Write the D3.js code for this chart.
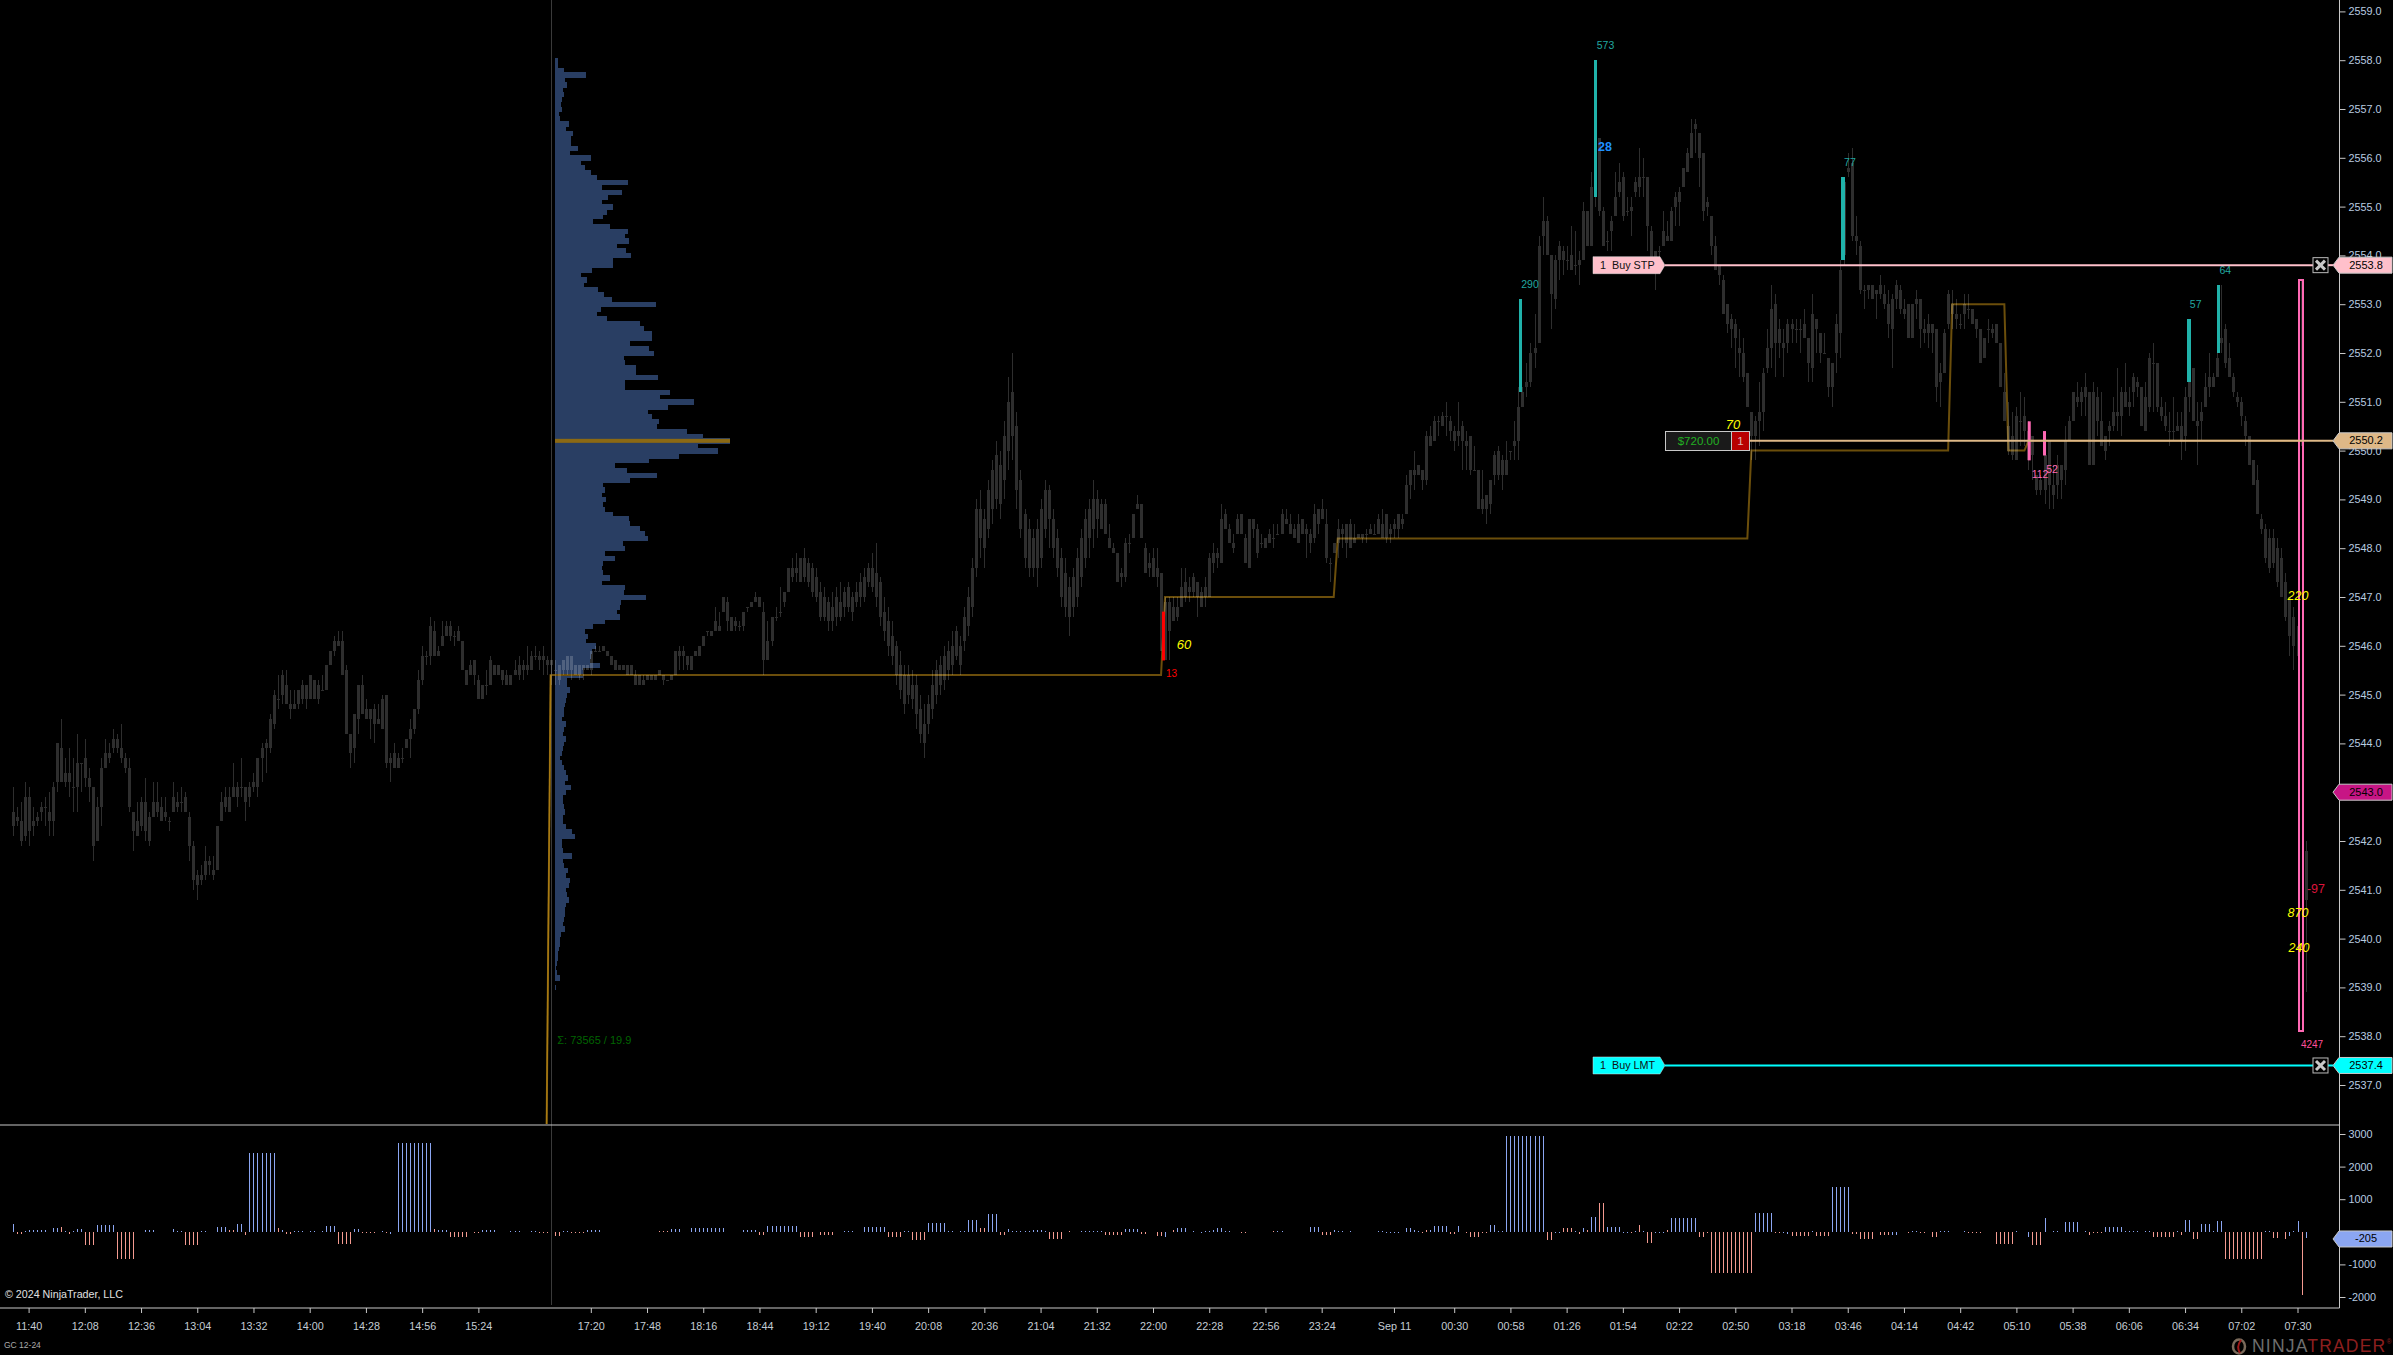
<!DOCTYPE html>
<html><head><meta charset="utf-8">
<script src="https://cdn.jsdelivr.net/npm/d3@7"></script>
<style>
html,body{margin:0;padding:0;background:#000;overflow:hidden}
svg{display:block;font-family:"Liberation Sans",Arial,sans-serif}
</style></head><body>
<script>
// Candles: [high, bodyTop, bodyBottom, low], in price tenths above 2500 (431 = 2543.1). First bar index is -4.
const candlesMorning=[[431,426,423,421],[427,425,424,423],[428,424,420,419],[432,429,421,420],[431,429,422,419],[427,424,423,421],[426,425,424,423],[428,427,426,424],[429,427,427,423],[430,426,424,421],[432,431,424,421],[440,440,432,430],[445,439,432,432],[437,434,432,431],[439,434,432,429],[437,431,431,426],[442,436,431,426],[436,436,436,430],[441,437,433,431],[435,433,431,428],[431,431,419,416],[429,427,420,420],[437,435,427,423],[441,438,435,435],[440,438,437,436],[443,441,439,438],[442,441,439,438],[444,439,437,436],[438,437,435,434],[437,435,427,426],[426,426,422,418],[428,424,421,421],[429,428,423,422],[433,428,422,420],[426,425,420,419],[432,428,425,425],[432,428,426,425],[429,427,424,424],[429,426,425,424],[425,424,424,422],[432,429,426,426],[430,428,427,426],[431,428,428,426],[430,429,426,426],[426,425,419,416],[420,419,412,410],[414,413,411,408],[415,413,412,411],[419,416,413,412],[417,416,415,413],[417,414,413,412],[423,423,414,414],[430,428,424,424],[431,429,427,426],[431,429,426,426],[436,431,429,429],[432,431,429,427],[437,431,431,429],[431,431,428,424],[432,431,429,427],[434,432,431,430],[437,437,431,429],[440,439,437,432],[441,440,439,434],[446,445,439,438],[451,450,444,443],[454,449,449,447],[455,454,450,448],[455,452,448,448],[451,448,447,445],[451,448,447,447],[451,451,448,447],[453,452,449,448],[452,452,449,447],[454,454,449,449],[453,453,449,449],[453,452,449,448],[454,451,451,451],[456,456,451,451],[459,459,456,456],[462,461,459,458],[463,461,460,460],[463,461,454,454],[456,455,442,442],[442,442,438,435],[446,446,439,436],[452,452,445,442],[454,452,446,446],[449,447,445,445],[447,447,445,441],[448,447,444,440],[448,445,444,444],[450,449,443,443],[450,450,436,435],[438,437,436,432],[440,438,435,435],[438,437,435,435],[439,437,437,436],[441,441,439,439],[445,443,441,437],[447,447,443,442],[455,453,447,446],[460,458,453,452],[459,458,458,456],[466,464,458,456],[465,463,458,458],[460,459,458,458],[465,462,460,460],[465,464,462,462],[465,464,462,461],[463,462,462,460],[464,463,461,461],[461,461,455,455],[455,455,452,452],[457,456,454,454],[457,457,454,452],[454,453,449,449],[452,452,449,449],[455,452,452,450],[458,457,452,452],[456,456,454,454],[456,456,454,454]];
const candlesClose=[[455,455,453,452],[455,454,452,452],[454,454,452,452],[457,455,454,454],[458,456,454,453],[457,456,455,453],[460,456,455,454],[459,458,455,455],[460,458,458,457],[459,458,457,455],[460,458,457,454],[458,457,456,454],[457,457,456,452]];
const candlesOpen=[[457,455,455,452],[456,456,453,452],[457,457,455,454],[458,458,455,454],[458,458,455,453],[456,456,454,454],[456,456,454,453],[456,456,455,453],[456,456,455,455],[459,459,455,454],[460,459,459,459],[460,459,459,459],[460,460,459,459],[459,459,458,458],[458,458,456,456],[457,457,455,455],[456,456,455,455],[456,456,455,455],[456,456,454,454],[456,456,454,454],[455,454,452,452],[454,454,452,452],[454,453,452,452],[454,454,453,453],[454,454,453,453],[454,454,453,453],[455,455,454,454],[454,454,453,452],[453,453,453,453],[454,454,453,453],[459,459,454,454],[460,459,458,455],[460,459,458,455],[458,458,456,455],[458,458,455,455],[459,459,458,458],[460,460,458,458],[462,462,460,460],[463,463,463,462],[463,463,462,462]];
const candlesEvening=[[468,465,463,463],[467,464,463,463],[470,470,467,467],[470,469,465,463],[466,466,463,463],[466,465,464,463],[465,464,464,463],[467,467,464,463],[468,468,468,467],[469,469,468,468],[471,470,469,469],[470,470,468,468],[469,467,457,454],[465,461,457,457],[466,466,461,460],[468,466,466,465],[472,467,467,466],[471,471,469,468],[476,476,471,471],[478,476,474,473],[479,476,475,473],[478,478,473,473]];
const candlesNight=[[480,478,474,473],[478,477,473,472],[477,476,471,470],[476,474,470,469],[473,471,466,465],[472,470,466,465],[470,469,465,463],[471,468,465,463],[472,470,466,464],[473,469,466,465],[472,471,468,466],[473,472,468,467],[471,470,467,465],[473,471,469,468],[475,473,470,468],[476,474,470,469],[477,476,473,472],[479,476,472,471],[481,475,470,468],[474,473,466,464],[470,467,463,461],[468,465,460,458],[465,462,458,456],[461,460,454,452],[459,456,451,449],[456,454,448,446],[456,454,450,448],[455,452,449,447],[454,452,446,443],[450,447,442,440],[448,444,440,437],[450,448,444,442],[455,452,447,445],[457,455,450,448],[458,456,452,450],[460,458,453,451],[461,459,455,453],[463,460,456,454],[464,463,458,457],[462,460,456,454],[468,466,461,459],[472,470,464,462],[478,476,468,466],[490,488,476,474],[492,488,482,478],[488,486,480,476],[494,492,484,482],[498,496,488,485],[502,499,490,488],[500,497,489,486],[506,503,494,490],[515,510,500,496],[520,512,503,498],[508,505,492,488],[496,494,484,482],[488,487,478,476],[486,484,476,474],[484,482,476,474],[486,484,476,472],[490,488,478,476],[494,492,484,482],[493,492,486,480],[488,486,480,478],[484,482,476,474],[480,478,470,468],[478,475,468,466],[474,472,466,462],[476,474,468,466],[480,478,470,468],[484,482,474,472],[488,486,478,476],[490,488,482,478],[494,490,484,480],[492,490,486,482]];
const candlesMidnight=[[490,489,484,484],[490,489,483,483],[485,482,480,480],[481,480,479,479],[479,479,473,473],[476,475,474,472],[482,481,474,473],[483,481,481,479],[487,487,482,482],[491,489,488,488],[489,489,482,482],[481,480,475,475],[479,477,476,474],[480,478,474,474],[480,476,474,472],[475,475,459,459],[470,469,457,457],[470,469,463,457],[470,468,465,465],[470,468,466,465],[476,472,468,468],[476,473,470,469],[474,472,471,469],[475,474,471,470],[473,473,470,466],[472,471,468,468],[474,472,470,468],[479,478,470,470],[481,479,477,475],[480,479,478,476],[489,486,477,477],[488,487,484,484],[485,484,481,481],[483,481,480,479],[487,486,483,483],[487,487,483,483],[483,482,477,477],[486,486,476,476],[486,486,484,482],[485,484,479,478],[483,481,481,480],[482,482,480,480],[484,483,481,481],[485,482,482,480],[485,483,483,483],[488,487,483,483],[488,486,485,485],[487,485,483,483],[485,484,482,482],[487,485,481,481],[486,486,483,483],[485,484,483,478],[484,483,481,479],[489,487,482,481],[488,488,485,483],[490,488,486,486],[488,485,478,477],[478,477,477,473],[481,481,479,479],[486,484,481,478],[485,484,483,480],[485,485,481,478],[486,485,480,480],[485,482,481,481],[483,483,482,482],[483,483,482,481],[484,483,483,481],[485,484,483,483],[485,483,483,483],[487,486,483,483],[488,485,482,482],[487,487,482,481],[485,484,483,481],[486,485,484,482],[487,487,484,482],[487,486,485,484],[495,493,487,487],[496,496,493,490],[500,496,495,492],[497,497,495,495],[496,496,494,492],[504,503,494,493],[505,503,501,501],[507,506,502,502],[507,506,506,503],[508,507,505,505],[510,507,507,503],[507,506,504,502],[505,504,502,500],[510,504,503,501],[506,505,502,496],[504,502,501,496],[503,503,496,495],[501,496,496,496],[496,496,488,488],[496,490,488,487],[491,491,488,485],[494,494,489,487],[500,499,495,493],[501,500,495,494],[499,498,495,492],[502,498,495,495],[500,500,500,498],[506,502,501,498],[513,509,502,498]];
const candlesAsia=[[513,512,509,509],[518,514,513,511],[522,520,514,513],[528,521,520,517],[544,542,522,522],[552,547,544,540],[548,547,540,540],[540,540,532,525],[540,539,531,529],[543,542,539,535],[542,541,539,536],[542,539,539,537],[546,540,537,537],[545,538,538,536],[541,539,538,534],[551,549,539,539],[549,549,542,542],[557,554,542,542],[563,563,552,550],[564,564,549,548],[550,549,542,542],[545,543,543,541],[548,547,545,541],[557,552,548,548],[559,555,553,552],[557,556,548,547],[552,549,549,548],[552,550,549,544],[556,555,553,552],[562,556,554,552],[560,556,556,552],[556,556,546,541],[546,545,538,538],[541,541,538,533],[542,541,541,539],[549,545,542,542],[547,544,543,543],[550,549,543,543],[553,552,550,546],[554,553,551,546],[558,558,554,554],[562,561,557,557],[568,565,560,560],[568,567,566,561],[565,565,560,554],[561,561,549,547],[552,551,550,548],[548,548,542,540],[544,542,537,537],[538,538,536,534],[536,535,528,528],[530,530,526,524],[528,527,525,521],[527,526,523,517],[525,521,520,515],[523,520,515,514],[516,516,509,509],[508,508,503,498],[507,506,503,498],[514,508,506,501],[517,516,508,504],[525,521,517,516],[534,529,521,517],[532,530,522,515],[527,525,522,519],[525,522,521,515],[527,526,522,520],[527,526,525,522],[527,525,525,522],[527,525,525,520],[529,526,523,523],[523,523,518,514],[532,528,517,514],[527,527,525,520],[524,524,520,518],[524,520,520,520],[519,519,513,511],[518,518,513,509],[528,526,520,516],[539,537,524,519],[556,555,540,538],[561,558,557,556],[562,559,544,543],[548,544,543,540],[543,542,533,532],[534,533,533,529],[534,534,533,531],[534,534,531,531],[533,533,532,527],[536,534,532,531],[534,532,530,529]];
const candlesLondon=[[533,530,526,523],[532,531,525,517],[535,534,531,529],[534,533,529,528],[531,529,528,527],[530,530,523,523],[530,530,523,523],[533,531,530,527],[531,531,525,521],[527,525,524,522],[528,526,524,521],[526,526,524,520],[525,525,513,510],[518,516,514,509],[525,524,516,516],[533,532,526,525],[533,530,528,525],[531,528,527,525],[528,526,526,525],[532,530,528,525],[532,529,529,527],[529,529,526,526],[527,527,525,523],[525,525,518,518],[523,523,519,519],[527,525,525,522],[526,525,524,523],[526,526,522,522]];
const candlesMorning2=[[522,522,513,513],[516,512,506,506],[510,505,500,499],[508,503,499,498],[509,507,498,498],[512,506,506,501],[511,507,504,501],[506,504,498,496],[503,503,499,494],[495,495,492,491],[495,494,492,491],[499,499,492,489],[502,502,493,488],[497,493,491,488],[499,497,493,490],[497,497,494,490],[505,502,496,493],[507,506,502,502],[512,512,506,506],[514,511,510,509],[513,512,510,507],[516,513,511,507],[512,512,497,497],[514,512,497,497],[513,511,506,503],[512,506,501,501],[503,503,500,498],[506,505,504,501],[511,508,505,504],[517,508,507,504],[513,512,507,503],[518,512,509,509],[513,510,509,507],[516,515,512,509],[515,514,513,511],[513,513,505,505],[514,511,504,504],[520,519,509,508],[522,518,518,508],[518,518,509,508],[511,509,507,506],[510,507,505,504],[508,504,504,501],[511,504,504,502],[508,505,504,504],[508,505,502,498],[513,511,503,500],[514,514,511,508],[517,517,506,506],[510,506,505,497],[510,508,506,502],[516,513,509,509],[520,515,513,511],[516,515,513,513],[522,519,515,515],[534,523,522,520],[526,525,518,517],[522,519,515,515],[516,515,512,511],[512,511,510,509],[511,510,507,505],[507,506,503,501],[503,503,497,497],[498,498,493,493],[497,494,487,487],[487,486,484,483],[485,484,478,477],[484,482,476,475],[484,482,477,476],[482,480,473,472],[480,478,470,470],[475,473,466,465],[470,470,462,458],[468,466,460,455],[466,464,458,455],[535,535,501,500],[420,418,408,389]];
const firstCandleBar=-4;

// Volume profile, row by row from 2558.0 downwards in 0.1 steps (relative volume)
const profilePriceTop=2558.0;
const profileVolumes=[8,8,27,93,30,36,24,27,21,17,21,11,15,42,33,54,48,48,69,45,108,78,90,108,126,219,141,201,159,141,174,156,144,114,165,219,210,222,186,213,228,174,174,111,78,96,87,129,147,171,303,138,126,156,255,267,291,291,225,282,297,207,210,243,243,309,210,210,345,315,417,339,279,291,312,306,396,444,525,429,489,372,282,180,216,306,225,144,150,141,153,144,150,174,222,225,255,270,279,204,210,150,180,144,141,144,165,141,210,207,273,198,195,186,195,150,114,90,99,93,123,111,108,105,135,84,84,36,36,45,36,33,30,27,27,21,33,27,24,33,27,24,21,15,21,27,33,39,30,48,33,24,24,27,30,24,24,33,51,60,22,22,24,51,24,27,39,33,45,42,33,36,42,33,30,30,27,24,30,18,15,15,12,9,9,7,3,6,15,0,3];
const pocPrice=2550.2;

// Delta histogram runs: [firstBar, lastBar, value]
const blueRuns=[[-4,-4,245],[-1,-1,30],[0,0,40],[1,4,50],[6,7,120],[9,9,30],[11,11,30],[12,13,90],[17,21,210],[29,31,50],[36,36,90],[37,38,30],[43,43,20],[44,44,30],[47,49,150],[52,53,245],[55,61,2420],[63,63,60],[66,68,30],[70,71,30],[73,73,30],[74,76,180],[81,82,90],[88,88,30],[90,90,-60],[92,100,2720],[102,102,70],[103,103,60],[104,104,50],[113,116,50],[120,122,30],[125,126,30],[133,133,30],[134,134,20],[139,142,50],[160,162,80],[165,173,120],[178,181,50],[184,191,190],[203,205,20],[208,213,150],[218,219,10],[224,228,280],[229,230,20],[232,233,20],[234,236,370],[239,241,550],[244,244,90],[245,249,30],[250,251,50],[252,252,40],[253,253,30],[262,267,20],[273,276,90],[283,283,-170],[286,288,120],[290,290,30],[292,292,-30],[293,294,30],[295,295,70],[296,297,110],[298,299,30],[311,312,20],[319,321,150],[325,325,50],[326,326,30],[327,327,20],[329,329,30],[336,337,20],[338,341,-20],[343,344,110],[345,345,70],[346,346,20],[349,349,50],[350,353,180],[356,356,180],[364,365,200],[366,367,20],[368,377,2940],[380,381,-20],[385,385,20],[387,387,120],[389,390,450],[393,396,150],[397,398,-30],[400,400,20],[402,402,20],[405,407,-50],[409,415,430],[430,434,570],[437,437,-30],[438,438,-60],[444,444,20],[449,453,1380],[464,465,-100],[469,470,30],[476,476,20],[477,477,30],[478,478,20],[482,482,30],[495,495,20],[498,498,-150],[502,502,430],[504,505,30],[507,510,300],[512,512,20],[517,521,150],[522,525,20],[527,528,20],[535,535,20],[537,538,350],[541,543,240],[544,544,20],[545,546,330],[557,558,20],[563,563,-120],[564,564,20],[565,565,330],[567,567,-180]];
const salmonRuns=[[-3,-2,-60],[8,8,150],[10,10,-60],[14,16,-400],[22,26,-820],[39,42,-400],[50,50,50],[51,51,70],[54,54,-90],[62,62,120],[64,64,-70],[65,65,-60],[77,80,-370],[83,86,-20],[89,89,-10],[101,101,80],[105,109,-150],[111,112,-30],[127,127,-30],[128,129,-50],[131,132,-120],[135,138,-20],[157,159,20],[182,183,-110],[192,195,-150],[197,200,-90],[214,217,-150],[220,223,-240],[237,238,120],[242,243,-90],[254,257,-210],[259,259,20],[268,272,-90],[277,278,-60],[281,282,-130],[285,285,40],[302,303,-20],[310,310,30],[322,324,-90],[347,347,-30],[348,348,50],[354,355,-60],[358,358,-10],[359,361,-150],[362,362,-50],[363,363,-20],[378,379,-240],[382,384,120],[386,386,-60],[388,388,50],[391,392,880],[399,399,-50],[401,401,210],[403,404,-340],[408,408,60],[416,417,-150],[418,418,-20],[419,429,-1260],[435,436,-30],[439,443,-130],[445,448,-130],[454,455,-60],[456,459,-210],[461,463,-100],[468,468,-30],[471,472,-20],[474,475,-150],[483,486,-20],[490,494,-370],[499,501,-400],[513,513,-90],[514,516,-20],[529,534,-150],[536,536,-110],[539,540,-210],[547,556,-820],[559,560,-180],[562,562,-210],[566,566,-1930]];

// Value-area step line: [bar, price]
const stepLine=[[129,2536.2],[130,2545.4],[282,2545.4],[283,2547.0],[325,2547.0],[326,2548.2],[428,2548.2],[429,2550.0],[478,2550.0],[479,2553.0],[492,2553.0],[493,2550.0],[497,2550.0],[498,2550.2],[566,2550.2]];

// Flow markers: [bar, priceTop, priceBottom, label]
const tealMarkers=[[371.4,2553.1,2551.2,"290"],[390.2,2558.0,2555.2,"573"],[451.8,2555.6,2553.9,"77"],[537.9,2552.7,2551.4,"57"],[545.3,2553.4,2552.0,"64"]];
const tealLabelPrices=[2553.4,2558.3,2555.9,2553.0,2553.7];
const pinkMarkers=[[498.2,2550.6,2549.8],[502,2550.4,2549.9]];
const redMarkers=[[282.6,2546.7,2545.7]];

const priceTicks=d3.range(2537,2560);
const deltaTicks=[3000,2000,1000,-1000,-2000];
const timeLabels=["11:40","12:08","12:36","13:04","13:32","14:00","14:28","14:56","15:24","17:20","17:48","18:16","18:44","19:12","19:40","20:08","20:36","21:04","21:32","22:00","22:28","22:56","23:24","Sep 11","00:30","00:58","01:26","01:54","02:22","02:50","03:18","03:46","04:14","04:42","05:10","05:38","06:06","06:34","07:02","07:30"];
const timeBars=[0,14,28,42,56,70,84,98,112,140,154,168,182,196,210,224,238,252,266,280,294,308,322,340,355,369,383,397,411,425,439,453,467,481,495,509,523,537,551,565];

const W=2393,H=1355,axisX=2339.5,sepY=1125,botY=1308,sessionBar=130;
const x=d3.scaleLinear().domain([0,565]).range([28.6,2297.5]);
const y=d3.scaleLinear().domain([2537,2558]).range([1085,60.2]);
const yT=t=>y(2500+t/10);
const yD=d3.scaleLinear().domain([-2000,3000]).range([1297,1134]);
const xP=d3.scaleLinear().domain([0,525]).range([555,730]);

const svg=d3.select("body").append("svg").attr("width",W).attr("height",H).style("background","#000");

// session line
svg.append("line").attr("x1",Math.round(x(sessionBar))+.5).attr("x2",Math.round(x(sessionBar))+.5).attr("y1",0).attr("y2",1305).attr("stroke","#3a3a3a");

// profile
const rowH=Math.abs(y(2550)-y(2550.1));
svg.append("g").attr("shape-rendering","crispEdges").selectAll("rect").data(profileVolumes).join("rect")
 .attr("x",xP(0)).attr("width",d=>xP(d)-xP(0))
 .attr("y",(d,i)=>y(profilePriceTop-i*0.1)-rowH/2).attr("height",rowH+0.6)
 .attr("fill","#293e63");
svg.append("rect").attr("x",xP(0)).attr("width",xP(525)-xP(0)).attr("y",y(pocPrice)-2).attr("height",4).attr("fill","#8b6914");

// step line
const stepGen=d3.line().x(d=>x(d[0])).y(d=>y(d[1]));
svg.append("path").attr("d",stepGen(stepLine)).attr("fill","none").attr("stroke","#6b4e0b").attr("stroke-width",2);
svg.append("path").attr("d",stepGen(stepLine.slice(0,2))).attr("fill","none").attr("stroke","#a87a12").attr("stroke-width",1.5);

// candles
const candles=[].concat(candlesMorning,candlesClose,candlesOpen,candlesEvening,candlesNight,candlesMidnight,candlesAsia,candlesLondon,candlesMorning2);
const gC=svg.append("g").attr("opacity",0.18).attr("shape-rendering","crispEdges");
gC.selectAll("line").data(candles).join("line")
 .attr("x1",(d,i)=>Math.round(x(firstCandleBar+i))+.5).attr("x2",(d,i)=>Math.round(x(firstCandleBar+i))+.5)
 .attr("y1",d=>yT(d[0])).attr("y2",d=>yT(d[3])).attr("stroke","#fff");
gC.selectAll("rect").data(candles).join("rect")
 .attr("x",(d,i)=>Math.round(x(firstCandleBar+i))-1).attr("width",3)
 .attr("y",d=>yT(d[1])).attr("height",d=>Math.max(1,yT(d[2])-yT(d[1])))
 .attr("fill","#fff");

// markers
const markerG=svg.append("g");
const tealOffsets=[10,10,7,7,7],tealWidths=[3,3,4,4,3];
markerG.selectAll(".t").data(tealMarkers).join("rect").attr("class","t").attr("shape-rendering","crispEdges")
 .attr("x",(d,i)=>x(d[0])-tealWidths[i]/2).attr("width",(d,i)=>tealWidths[i]).attr("y",d=>y(d[1])).attr("height",d=>y(d[2])-y(d[1])).attr("fill","#20b2aa");
markerG.selectAll(".l").data(tealMarkers).join("text").attr("class","l")
 .attr("x",(d,i)=>x(d[0])+tealOffsets[i]).attr("y",(d,i)=>y(tealLabelPrices[i])+1).attr("text-anchor","middle").attr("dominant-baseline","middle")
 .attr("font-size",10.5).attr("fill","#20a8a0").text(d=>d[3]);
markerG.selectAll(".p").data(pinkMarkers).join("rect").attr("class","p")
 .attr("x",d=>x(d[0])-1.5).attr("width",3).attr("y",d=>y(d[1])).attr("height",d=>y(d[2])-y(d[1])).attr("fill","#ff69b4");
markerG.selectAll(".r").data(redMarkers).join("rect").attr("class","r")
 .attr("x",d=>x(d[0])-1.5).attr("width",3).attr("y",d=>y(d[1])).attr("height",d=>y(d[2])-y(d[1])).attr("fill","#ff0000");
// tall rect
svg.append("rect").attr("x",2299).attr("width",4).attr("y",y(2553.5)).attr("height",y(2538.1)-y(2553.5)).attr("fill","none").attr("stroke","#ff69b4").attr("stroke-width",2).attr("shape-rendering","crispEdges");

function txt(tx,ty,s,fill,size,opt={}){
 return svg.append("text").attr("x",tx).attr("y",ty).attr("fill",fill).attr("font-size",size)
  .attr("text-anchor",opt.anchor||"middle").attr("dominant-baseline","middle")
  .attr("font-style",opt.style||"normal").attr("font-weight",opt.weight||"normal").text(s);
}
txt(1605,148,"28","#1e90ff",12.5,{weight:"bold"});
txt(1171.5,674,"13","#ff0000",10);
txt(1184,645.5,"60","#ffff00",13,{style:"italic"});
txt(2040,475,"112","#ff69b4",10.5);
txt(2052,470,"52","#ff69b4",10.5);
txt(2312,1045,"4247","#ff4f9a",10);
txt(2316,890,"-97","#dc143c",12.5);
txt(2298,913.5,"870","#ffff00",12.5,{style:"italic"});
txt(2299,948.5,"240","#ffff00",12.5,{style:"italic"});
txt(2298,597,"220","#ffff00",12.5,{style:"italic"});
txt(1733,426,"70","#ffff00",13,{style:"italic"});
txt(557.3,1041,"Σ: 73565 / 19.9","#006400",11,{anchor:"start"});

// panel lines
svg.append("line").attr("x1",0).attr("x2",axisX).attr("y1",sepY).attr("y2",sepY).attr("stroke","#c8c8c8");
svg.append("line").attr("x1",0).attr("x2",axisX).attr("y1",botY).attr("y2",botY).attr("stroke","#c8c8c8");
svg.append("line").attr("x1",axisX).attr("x2",axisX).attr("y1",0).attr("y2",botY).attr("stroke","#c8c8c8");

// delta bars
function expand(runs){const o=[];runs.forEach(r=>{for(let b=r[0];b<=r[1];b++)o.push([b,r[2]]);});return o;}
function drawBars(runs,color){
 svg.append("g").attr("shape-rendering","crispEdges").selectAll("rect").data(expand(runs)).join("rect")
  .attr("x",d=>Math.round(x(d[0]))).attr("width",1)
  .attr("y",d=>Math.min(yD(0),yD(d[1]))).attr("height",d=>Math.max(1,Math.abs(yD(d[1])-yD(0))))
  .attr("fill",color);
}
drawBars(blueRuns,"#8ba6f2");
drawBars(salmonRuns,"#f49a90");

// axes
function styleAxis(g,size,col){
 g.select(".domain").remove();
 g.selectAll(".tick line").attr("stroke","#c8c8c8");
 g.selectAll(".tick text").attr("fill",col).attr("font-size",size).attr("font-family",'"Liberation Sans",Arial,sans-serif');
}
const axP=svg.append("g").attr("transform",`translate(${axisX},0)`)
 .call(d3.axisRight(y).tickValues(priceTicks).tickSize(6).tickPadding(3).tickFormat(d3.format(".1f")));
styleAxis(axP,10.8,"#b8cce0");
const axD=svg.append("g").attr("transform",`translate(${axisX},0)`)
 .call(d3.axisRight(yD).tickValues(deltaTicks).tickSize(6).tickPadding(3).tickFormat(d=>d));
styleAxis(axD,10.8,"#b8cce0");
const axT=svg.append("g").attr("transform",`translate(0,${botY})`)
 .call(d3.axisBottom(x).tickValues(timeBars).tickSize(5).tickPadding(9).tickFormat((d,i)=>timeLabels[i]));
styleAxis(axT,10.8,"#c4ccd4");

// order lines + tags
function tag(cy,fill,label,stroke){
 const top=cy-8,bot=cy+8;
 svg.append("polygon").attr("points",`2333,${cy} 2339,${top} 2392,${top} 2392,${bot} 2339,${bot}`)
  .attr("fill",fill).attr("stroke",stroke||"#c8c8c8").attr("stroke-width",1);
 txt(2366,cy+.5,label,"#000",11);
}
function xBox(cy){
 svg.append("rect").attr("x",2313).attr("y",cy-7.5).attr("width",15).attr("height",15).attr("fill","#000").attr("stroke","#bbb");
 [[-1,-1,1,1],[-1,1,1,-1]].forEach(a=>svg.append("line").attr("x1",2320.5+a[0]*4.5).attr("y1",cy+a[1]*4.5).attr("x2",2320.5+a[2]*4.5).attr("y2",cy+a[3]*4.5).attr("stroke","#c8c8c8").attr("stroke-width",3));
}
function orderLabel(cy,fill,label){
 svg.append("polygon").attr("points",`1593,${cy-8.5} 1660,${cy-8.5} 1665,${cy} 1660,${cy+8.5} 1593,${cy+8.5}`).attr("fill",fill).attr("stroke","#ddd").attr("stroke-width",.5);
 svg.append("text").attr("x",1600).attr("y",cy+.5).attr("dominant-baseline","middle").attr("font-size",10.8).attr("fill","#111").attr("xml:space","preserve").style("white-space","pre").text(label);
}
const stpY=y(2553.8),tanY=y(2550.2),lmtY=y(2537.4),magY=y(2543.0),delY=yD(-205)+0.5;
svg.append("line").attr("x1",1665).attr("x2",2313).attr("y1",stpY).attr("y2",stpY).attr("stroke","#ffc0cb").attr("stroke-width",2);
svg.append("line").attr("x1",1750).attr("x2",2333).attr("y1",tanY).attr("y2",tanY).attr("stroke","#deb887").attr("stroke-width",2);
svg.append("line").attr("x1",1665).attr("x2",2313).attr("y1",lmtY).attr("y2",lmtY).attr("stroke","#00ffff").attr("stroke-width",2);
svg.append("line").attr("x1",2328).attr("x2",2333).attr("y1",stpY).attr("y2",stpY).attr("stroke","#ffc0cb").attr("stroke-width",2);
svg.append("line").attr("x1",2328).attr("x2",2333).attr("y1",lmtY).attr("y2",lmtY).attr("stroke","#00ffff").attr("stroke-width",2);
orderLabel(stpY,"#ffc0cb","1  Buy STP");
orderLabel(lmtY,"#00ffff","1  Buy LMT");
xBox(stpY);xBox(lmtY);
tag(stpY,"#ffc0cb","2553.8");
tag(tanY,"#deb887","2550.2");
tag(lmtY,"#00ffff","2537.4");
tag(magY,"#c71585","2543.0");
tag(delY,"#8ba6f2","-205");
// position box
svg.append("rect").attr("x",1665.5).attr("y",431.5).attr("width",66).attr("height",19).attr("fill","#1a1a1a").attr("stroke","#c8c8c8");
svg.append("rect").attr("x",1731.5).attr("y",431.5).attr("width",18).attr("height",19).attr("fill","#b80000").attr("stroke","#c8c8c8");
txt(1698.5,441.5,"$720.00","#22b022",11.5);
txt(1740.5,441.5,"1","#d8b8b8",11.5);

// footer
txt(5,1295,"© 2024 NinjaTrader, LLC","#e0e0e0",10.7,{anchor:"start"});
txt(4,1346,"GC 12-24","#aaaaaa",8.5,{anchor:"start"});
svg.append("ellipse").attr("cx",2239).attr("cy",1346.5).attr("rx",6).attr("ry",7).attr("fill","none").attr("stroke","#7a6a5a").attr("stroke-width",2.5);
svg.append("path").attr("d","M2241,1340 Q2236,1347 2240,1353").attr("fill","none").attr("stroke","#a01818").attr("stroke-width",2);
const logo=svg.append("text").attr("x",2252).attr("y",1347).attr("dominant-baseline","middle").attr("font-size",17.5).attr("letter-spacing",1.2);
logo.append("tspan").attr("fill","#6e6e6e").text("NINJA");
logo.append("tspan").attr("fill","#8c1f1f").text("TRADER");
logo.append("tspan").attr("fill","#8c1f1f").attr("font-size",7).attr("dy",-5).text("®");
</script>
</body></html>
